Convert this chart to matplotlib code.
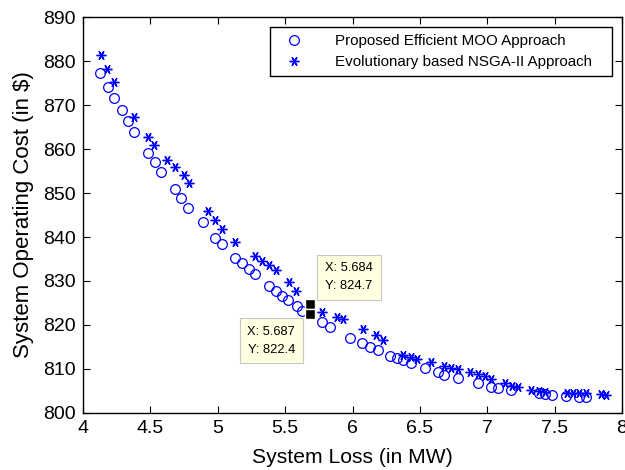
import matplotlib
matplotlib.use("Agg")
import matplotlib.pyplot as plt

plt.rcParams['font.family'] = ['Liberation Sans', 'DejaVu Sans']

# Proposed Efficient MOO Approach
moo_loss = [4.126, 4.186, 4.232, 4.286, 4.334, 4.378, 4.480, 4.537, 4.581, 4.684,
            4.729, 4.781, 4.888, 4.982, 5.032, 5.130, 5.180, 5.230, 5.278, 5.379,
            5.429, 5.478, 5.525, 5.586, 5.623, 5.687, 5.775, 5.833, 5.981, 6.074,
            6.130, 6.186, 6.282, 6.330, 6.377, 6.434, 6.536, 6.633, 6.681, 6.785,
            6.928, 7.030, 7.080, 7.178, 7.382, 7.429, 7.481, 7.581, 7.679, 7.733]
moo_cost = [877.2, 874.2, 871.5, 868.9, 866.3, 863.9, 859.1, 857.0, 854.7, 850.9,
            848.8, 846.7, 843.3, 839.8, 838.3, 835.3, 834.1, 832.8, 831.6, 828.8,
            827.8, 826.7, 825.7, 824.3, 823.2, 822.4, 820.7, 819.5, 817.1, 815.8,
            815.1, 814.3, 813.0, 812.5, 812.0, 811.3, 810.3, 809.3, 808.6, 807.9,
            806.9, 806.0, 805.7, 805.2, 804.5, 804.3, 804.1, 803.9, 803.6, 803.6]

# Evolutionary based NSGA-II Approach
nsga_loss = [4.131, 4.176, 4.232, 4.378, 4.479, 4.527, 4.623, 4.683, 4.746, 4.783,
             4.930, 4.977, 5.035, 5.129, 5.280, 5.328, 5.377, 5.429, 5.531, 5.581,
             5.684, 5.777, 5.883, 5.927, 6.080, 6.177, 6.229, 6.378, 6.436, 6.481,
             6.581, 6.681, 6.730, 6.782, 6.872, 6.929, 6.981, 7.030, 7.132, 7.181,
             7.226, 7.321, 7.383, 7.425, 7.590, 7.634, 7.679, 7.733, 7.844, 7.878]
nsga_cost = [881.3, 878.2, 875.3, 867.3, 862.8, 860.9, 857.6, 856.0, 854.2, 852.2,
             845.9, 843.8, 841.9, 838.8, 835.7, 834.5, 833.6, 832.6, 829.7, 827.7,
             824.7, 823.0, 821.9, 821.3, 819.2, 817.7, 816.6, 813.2, 812.7, 812.2,
             811.5, 810.6, 810.3, 810.0, 809.3, 808.8, 808.3, 807.7, 806.8, 806.1,
             805.8, 805.2, 804.9, 804.8, 804.6, 804.5, 804.5, 804.5, 804.3, 804.0]

# Data tips
tip_nsga = (5.684, 824.7)
tip_moo = (5.687, 822.4)

xticks = [4, 4.5, 5, 5.5, 6, 6.5, 7, 7.5, 8]
yticks = [800, 810, 820, 830, 840, 850, 860, 870, 880, 890]

fig = plt.figure(figsize=(6.25, 4.7), dpi=100)
ax = fig.add_axes([0.1328, 0.1213, 0.8624, 0.8425])

ax.plot(moo_loss, moo_cost, linestyle='none', marker='o', markersize=7,
        markerfacecolor='none', markeredgecolor='#0000ff', markeredgewidth=0.9,
        label='Proposed Efficient MOO Approach')
ax.plot(nsga_loss, nsga_cost, linestyle='none', marker=(6, 2, 90), markersize=7,
        color='#0000ff', markeredgewidth=1.0,
        label='Evolutionary based NSGA-II Approach')

ax.set_xlim(4, 8)
ax.set_ylim(800, 890)
ax.set_xticks(xticks)
ax.set_xticklabels([f'{t:g}' for t in xticks])
ax.set_yticks(yticks)
ax.tick_params(direction='in', top=True, right=True, length=5, width=0.8,
               labelsize=14, pad=5)
for s in ax.spines.values():
    s.set_linewidth(1.0)

ax.set_xlabel('System Loss (in MW)', fontsize=15.2, labelpad=8)
ax.set_ylabel('System Operating Cost (in $)', fontsize=16, labelpad=7)

leg = ax.legend(loc='upper left', bbox_to_anchor=(0.347, 0.0, 0.634, 0.9747),
                mode='expand', fontsize=10.9, frameon=True, fancybox=False,
                edgecolor='black', framealpha=1, borderpad=0.45,
                handletextpad=1.6, borderaxespad=0.0, handlelength=2.27,
                labelspacing=0.5)
leg.get_frame().set_linewidth(1.0)

bbox = dict(boxstyle='square,pad=0.6', facecolor='#ffffe1', edgecolor='#c8c8c0',
            linewidth=0.8)
ax.annotate(f'X: {tip_nsga[0]}\nY: {tip_nsga[1]}', xy=tip_nsga,
            xytext=(11, 9), textcoords='offset points', ha='left', va='bottom',
            fontsize=9.3, bbox=bbox, linespacing=1.6, zorder=7)
ax.annotate(f'X: {tip_moo[0]}\nY: {tip_moo[1]}', xy=tip_moo,
            xytext=(-11, -8.5), textcoords='offset points', ha='right', va='top',
            fontsize=9.3, bbox=bbox, linespacing=1.6, zorder=7)

# data tip markers
for (tx, ty) in (tip_nsga, tip_moo):
    ax.plot([tx], [ty], linestyle='none', marker='s', markersize=6.8,
            markerfacecolor='black', markeredgecolor='#fffff0',
            markeredgewidth=1.0, zorder=8)

fig.savefig('out.png', dpi=100)
